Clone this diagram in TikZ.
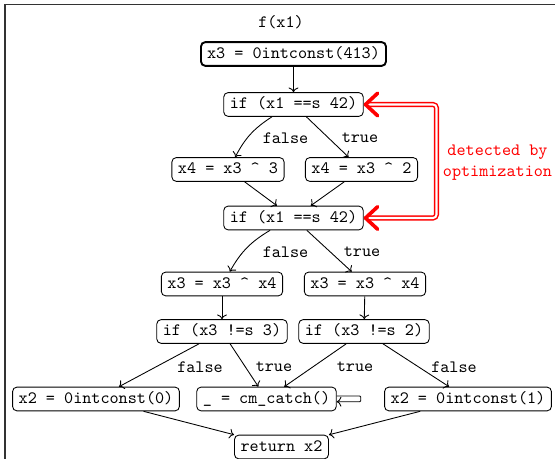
\documentclass[tikz,border=0pt]{standalone}
\usetikzlibrary{arrows.meta,calc}
\begin{document}
\begin{tikzpicture}[x=0.577pt,y=-0.577pt,
  every node/.style={font=\ttfamily},
  blk/.style={draw, rounded corners=2.5pt, inner xsep=3.5pt, inner ysep=2.2pt,
    text height=7pt, text depth=2.3pt, line width=0.5pt},
  entry/.style={blk, line width=1.1pt},
  lbl/.style={inner sep=0pt},
  flow/.style={->, line width=0.5pt},
  redlink/.style={draw=red, double=white, double distance=1.2pt, line width=0.85pt,
    rounded corners=2pt,
    arrows={Straight Barb[length=7pt,width=13pt,line width=2.1pt,round]-Straight Barb[length=7pt,width=13pt,line width=2.1pt,round]}}]
\useasboundingbox (0,0) rectangle (555,459);

% frame of the function
\draw[line width=0.8pt, black!80] (5,459) -- (5,4.7) -- (555,4.7);

\node (title) at (281,22) {f(x1)};

% basic blocks
\node[entry] (n0) at (293.5,54)   {x3 = 0intconst(413)};
\node[blk]   (n1) at (293.5,104.5) {if (x1 ==s 42)};
\node[blk]   (n2) at (228,169.5)  {x4 = x3 \textasciicircum{} 3};
\node[blk]   (n3) at (361.5,169.5) {x4 = x3 \textasciicircum{} 2};
\node[blk]   (n4) at (293.5,218)  {if (x1 ==s 42)};
\node[blk]   (n5) at (222,284)    {x3 = x3 \textasciicircum{} x4};
\node[blk]   (n6) at (365,284)    {x3 = x3 \textasciicircum{} x4};
\node[blk]   (n7) at (222,331.5)  {if (x3 !=s 3)};
\node[blk]   (n8) at (364,331.5)  {if (x3 !=s 2)};
\node[blk]   (n9) at (96,399)     {x2 = 0intconst(0)};
\node[blk]   (n10) at (266.5,399) {\_ = cm\_catch()};
\node[blk]   (n11) at (468,399)   {x2 = 0intconst(1)};
\node[blk]   (n12) at (281.5,447) {return x2};

% control flow
\draw[flow] (n0) -- (n1);
\draw[flow] (n1) to[bend right=15] (n2);
\draw[flow] (n1) -- (n3);
\draw[flow] (n2) -- (n4);
\draw[flow] (n3) -- (n4);
\draw[flow] (n4) to[bend right=15] (n5);
\draw[flow] (n4) -- (n6);
\draw[flow] (n5) -- (n7);
\draw[flow] (n6) -- (n8);
\draw[flow] (n7) -- (n9);
\draw[flow] (n7) -- (n10);
\draw[flow] (n8) -- (n10);
\draw[flow] (n8) -- (n11);
\draw[flow] (n9) -- (n12);
\draw[flow] (n11) -- (n12);
\draw[flow, rounded corners=0.5pt] ($(n10.east)+(0,-3)$) -- ++(24,0) -- ++(0,5.7) -- ($(n10.east)+(0,2.7)$);

% branch labels
\node[lbl] (l1) at (285.5,138) {false};
\node[lbl] (l2) at (360,138)   {true};
\node[lbl] (l3) at (285.5,252) {false};
\node[lbl] (l4) at (362,252)   {true};
\node[lbl] (l5) at (200,367)   {false};
\node[lbl] (l6) at (274,367)   {true};
\node[lbl] (l7) at (355,367)   {true};
\node[lbl] (l8) at (454,367)   {false};

% duplicated condition
\coordinate (rx) at (436.5,0);
\draw[redlink] (n1.east) -- (n1.east -| rx) -- (n4.east -| rx) -- (n4.east);
\node[text=red, align=center] (note) at (497.5,163) {detected by\\optimization};
\end{tikzpicture}
\end{document}
